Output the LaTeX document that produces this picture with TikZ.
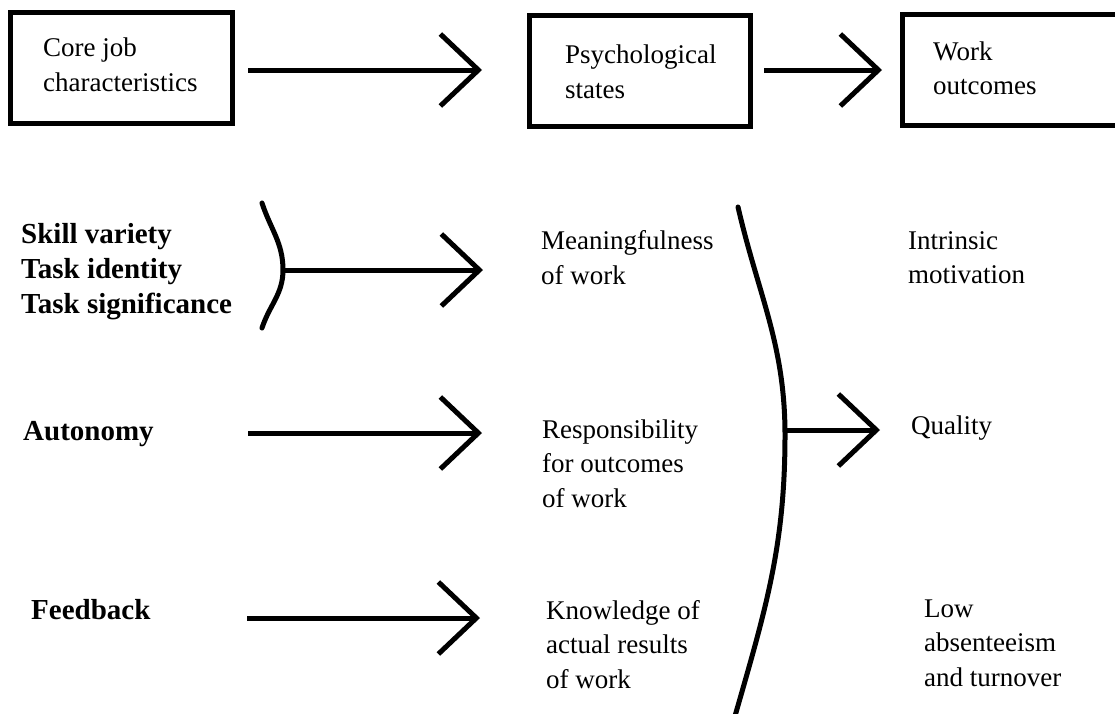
\documentclass[tikz,border=0pt]{standalone}
\usepackage{fontspec}
\setmainfont{Liberation Serif}
\usetikzlibrary{arrows.meta}
\begin{document}
\begin{tikzpicture}[x=1pt,y=-1pt,
  frame/.style={draw, line width=5pt, inner sep=0pt, minimum height=111pt},
  % text blocks are placed by the baseline of their last line
  txt/.style={anchor=base west, align=left, inner sep=0pt,
    font=\fontsize{27}{34.5}\selectfont},
  bld/.style={txt, font=\fontsize{29}{35}\selectfont\bfseries},
  flow/.style={line width=5pt, -{Straight Barb[length=38pt,width=72pt]}},
  brace/.style={line width=5pt, line cap=round}]
\useasboundingbox (0,0) rectangle (1115,713);

% header boxes
\node[frame, minimum width=222pt] (core) at (121.5,68) {};
\node[frame, minimum width=221pt] (psych) at (640,71) {};
\node[frame, minimum width=222.5pt] (work) at (1013.75,70) {};
\node[txt] (coret) at (43,91) {Core job\\characteristics};
\node[txt] (psycht) at (565,98) {Psychological\\states};
\node[txt] (workt) at (933,94.5) {Work\\outcomes};

% core job characteristics
\node[bld] (skill) at (21,313) {Skill variety\\Task identity\\Task significance};
\node[bld] (auto) at (23,440) {Autonomy};
\node[bld] (feed) at (31,619) {Feedback};

% psychological states
\node[txt] (mean) at (541,284) {Meaningfulness\\of work};
\node[txt] (resp) at (542,507) {Responsibility\\for outcomes\\of work};
\node[txt] (know) at (546,688) {Knowledge of\\actual results\\of work};

% outcomes
\node[txt] (intr) at (908,283.5) {Intrinsic\\motivation};
\node[txt] (qual) at (911,434) {Quality};
\node[txt] (low) at (924,686) {Low\\absenteeism\\and turnover};

% brackets
\coordinate (sbtop) at (262,203);
\coordinate (sbmid) at (283,270);
\coordinate (sbbot) at (262,328);
\draw[brace] (sbtop) to[out=-72,in=90] (sbmid) to[out=-90,in=72] (sbbot);
\coordinate (bbtop) at (738,207);
\coordinate (bbmid) at (785,435);
\coordinate (bbbot) at (735,716);
\draw[brace] (bbtop) to[out=-77,in=90] (bbmid) to[out=-90,in=74] (bbbot);

% arrows
\coordinate (a1s) at (248,70);
\coordinate (a1e) at (482,70);
\draw[flow] (a1s) -- (a1e);
\coordinate (a2s) at (764,70);
\coordinate (a2e) at (882,70);
\draw[flow] (a2s) -- (a2e);
\coordinate (r1e) at (483,270);
\draw[flow] (sbmid) -- (r1e);
\coordinate (r2s) at (248,433);
\coordinate (r2e) at (482,433);
\draw[flow] (r2s) -- (r2e);
\coordinate (r3s) at (247,618);
\coordinate (r3e) at (480,618);
\draw[flow] (r3s) -- (r3e);
\coordinate (qs) at (785,430);
\coordinate (qe) at (880,430);
\draw[flow] (qs) -- (qe);
\end{tikzpicture}
\end{document}
